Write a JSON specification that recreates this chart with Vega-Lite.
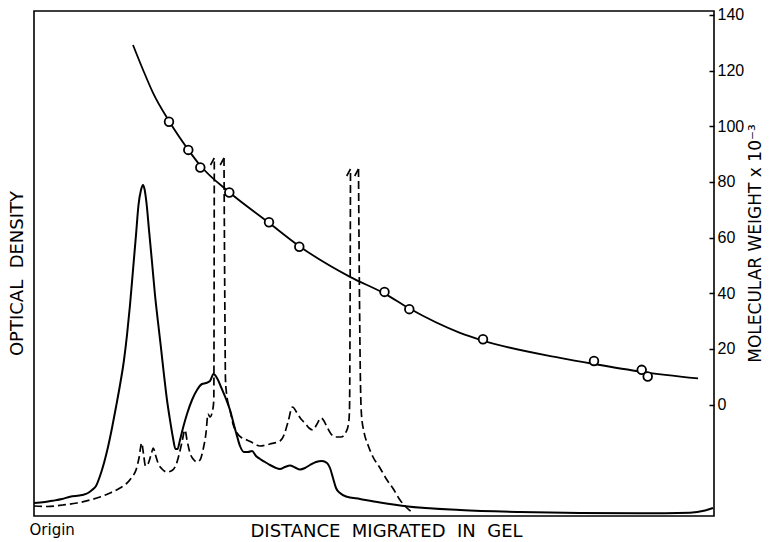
{
  "$schema": "https://vega.github.io/schema/vega-lite/v6.json",
  "width": 680,
  "height": 505,
  "autosize": {"type": "none"},
  "padding": {"left": 34, "top": 11, "right": 60, "bottom": 26},
  "background": "white",
  "config": {
    "font": "DejaVu Sans",
    "view": {"stroke": "black", "strokeWidth": 1.6},
    "axis": {"grid": false, "titleFontWeight": "normal", "titleColor": "black", "labelColor": "black"}
  },
  "datasets": {
    "solid": [
      {"d":0,"od":13},{"d":11,"od":14},{"d":19,"od":15.3},{"d":28,"od":17},{"d":36,"od":19.3},{"d":48,"od":21},{"d":54,"od":23},{"d":58,"od":26},{"d":62,"od":30},{"d":66,"od":40},{"d":70,"od":53},{"d":74,"od":69},{"d":78,"od":88},{"d":82,"od":109},{"d":86,"od":131},{"d":90,"od":156},{"d":93,"od":181},{"d":96,"od":211},{"d":99,"od":246},{"d":102,"od":281},{"d":104.5,"od":311},{"d":107,"od":326},{"d":109,"od":331},{"d":110.5,"od":327},{"d":112.5,"od":313},{"d":115,"od":286},{"d":118,"od":254},{"d":121,"od":221},{"d":124,"od":194},{"d":127,"od":168},{"d":130,"od":141},{"d":133,"od":116},{"d":136,"od":96},{"d":139,"od":78},{"d":141.5,"od":67},{"d":143.5,"od":67},{"d":146,"od":76},{"d":149,"od":88},{"d":153,"od":102},{"d":158,"od":116},{"d":163,"od":126},{"d":168,"od":132},{"d":172,"od":133},{"d":176,"od":135},{"d":179.5,"od":142},{"d":183,"od":138},{"d":187,"od":129},{"d":192,"od":117},{"d":196,"od":106},{"d":200,"od":91},{"d":203,"od":80},{"d":206,"od":70},{"d":210,"od":64},{"d":214,"od":64},{"d":218,"od":65},{"d":222,"od":60},{"d":226,"od":57},{"d":231,"od":54},{"d":236,"od":51},{"d":241,"od":48.5},{"d":246,"od":47},{"d":251,"od":49},{"d":256,"od":50.5},{"d":261,"od":48.5},{"d":266,"od":46.5},{"d":271,"od":48},{"d":276,"od":51},{"d":282,"od":54},{"d":288,"od":55},{"d":293,"od":53},{"d":296,"od":48},{"d":299,"od":38},{"d":302,"od":28},{"d":306,"od":23},{"d":312,"od":19.5},{"d":326,"od":17},{"d":346,"od":13.5},{"d":374,"od":9.5},{"d":426,"od":6},{"d":486,"od":4},{"d":546,"od":3},{"d":606,"od":2.7},{"d":656,"od":3.3},{"d":671,"od":5.5},{"d":679,"od":8}
    ],
    "dashed": [
      {"seg":1,"d":0,"od":10},{"seg":1,"d":13,"od":9.5},{"seg":1,"d":29,"od":11},{"seg":1,"d":43,"od":13},{"seg":1,"d":56,"od":16},{"seg":1,"d":66,"od":19},{"seg":1,"d":76,"od":23},{"seg":1,"d":86,"od":28},{"seg":1,"d":92,"od":32},{"seg":1,"d":98,"od":39},{"seg":1,"d":102,"od":46},{"seg":1,"d":105,"od":58},{"seg":1,"d":107.7,"od":73},{"seg":1,"d":109.5,"od":62},{"seg":1,"d":111.5,"od":50},{"seg":1,"d":114,"od":52},{"seg":1,"d":117,"od":61},{"seg":1,"d":119.3,"od":68},{"seg":1,"d":121.5,"od":61},{"seg":1,"d":124,"od":53},{"seg":1,"d":128,"od":47},{"seg":1,"d":133,"od":44},{"seg":1,"d":138,"od":45.5},{"seg":1,"d":142,"od":51},{"seg":1,"d":145,"od":61},{"seg":1,"d":148,"od":74},{"seg":1,"d":151,"od":86},{"seg":1,"d":153,"od":76},{"seg":1,"d":156,"od":63},{"seg":1,"d":160,"od":56},{"seg":1,"d":163,"od":54},{"seg":1,"d":166,"od":56},{"seg":1,"d":169,"od":66},{"seg":1,"d":172,"od":83},{"seg":1,"d":174,"od":102},{"seg":1,"d":176,"od":99},{"seg":1,"d":178.5,"od":105},{"seg":1,"d":179.8,"od":116},{"seg":1,"d":180.3,"od":358},
      {"seg":2,"d":190,"od":358},{"seg":2,"d":190.8,"od":216},{"seg":2,"d":191.5,"od":136},{"seg":2,"d":192.7,"od":121},{"seg":2,"d":196,"od":106},{"seg":2,"d":199,"od":92},{"seg":2,"d":203,"od":83},{"seg":2,"d":208,"od":78},{"seg":2,"d":213,"od":76},{"seg":2,"d":219,"od":73},{"seg":2,"d":226,"od":70},{"seg":2,"d":236,"od":72},{"seg":2,"d":246,"od":75},{"seg":2,"d":250,"od":81},{"seg":2,"d":254,"od":94},{"seg":2,"d":258.5,"od":109},{"seg":2,"d":263,"od":103},{"seg":2,"d":267,"od":97},{"seg":2,"d":271,"od":93},{"seg":2,"d":275,"od":88},{"seg":2,"d":279,"od":86},{"seg":2,"d":283,"od":92},{"seg":2,"d":287,"od":98},{"seg":2,"d":290,"od":95},{"seg":2,"d":293,"od":89},{"seg":2,"d":297,"od":82},{"seg":2,"d":301,"od":79},{"seg":2,"d":307,"od":79},{"seg":2,"d":312,"od":84},{"seg":2,"d":314.5,"od":92},{"seg":2,"d":315.5,"od":106},{"seg":2,"d":316.5,"od":347},
      {"seg":3,"d":324.5,"od":347},{"seg":3,"d":325.5,"od":216},{"seg":3,"d":326.5,"od":131},{"seg":3,"d":327.5,"od":101},{"seg":3,"d":330,"od":84},{"seg":3,"d":334,"od":71},{"seg":3,"d":339,"od":59},{"seg":3,"d":346,"od":48},{"seg":3,"d":353,"od":36},{"seg":3,"d":360,"od":26},{"seg":3,"d":366,"od":16},{"seg":3,"d":372,"od":9},{"seg":3,"d":377.7,"od":4}
    ],
    "hooks": [
      {"d":180.3,"od":358,"d2":176.5,"od2":351},
      {"d":190,"od":358,"d2":186.2,"od2":351},
      {"d":316.5,"od":347,"d2":312.7,"od2":340},
      {"d":324.5,"od":347,"d2":320.7,"od2":340}
    ],
    "mwcurve": [
      {"d":99,"mw":129.2},{"d":109,"mw":120.3},{"d":119,"mw":112.0},{"d":135,"mw":101.9},{"d":154,"mw":91.7},{"d":166,"mw":86.0},{"d":195,"mw":76.4},{"d":234,"mw":65.6},{"d":265,"mw":57.0},{"d":316,"mw":45.9},{"d":351,"mw":39.8},{"d":375,"mw":34.6},{"d":426,"mw":25.8},{"d":449,"mw":23.0},{"d":526,"mw":16.8},{"d":560,"mw":14.6},{"d":608,"mw":11.8},{"d":664,"mw":9.4}
    ],
    "mwpoints": [
      {"d":135,"mw":101.6},{"d":154.3,"mw":91.5},{"d":166.3,"mw":85.2},{"d":195.3,"mw":76.2},{"d":235,"mw":65.5},{"d":265.3,"mw":56.7},{"d":350.5,"mw":40.5},{"d":375.3,"mw":34.3},{"d":449,"mw":23.5},{"d":560,"mw":15.7},{"d":607.7,"mw":12.5},{"d":613.7,"mw":10.1}
    ]
  },
  "layer": [
    {
      "layer": [
        {
          "data": {"name": "solid"},
          "mark": {"type": "line", "color": "black", "strokeWidth": 2, "interpolate": "monotone"},
          "encoding": {
            "x": {"field": "d", "type": "quantitative", "scale": {"domain": [0, 680], "nice": false, "zero": false},
              "axis": {"orient": "bottom", "values": [0], "labelExpr": "'Origin'", "ticks": false, "domain": false,
                "labelAlign": "left", "labelBaseline": "alphabetic", "labelPadding": 18, "labelOffset": -5, "labelFontSize": 15, "labelFlush": false, "labelBound": false,
                "title": "DISTANCE \u00a0MIGRATED \u00a0IN \u00a0GEL", "titleFontSize": 18, "titleX": 352, "titleY": 20, "titleBaseline": "alphabetic", "titleAlign": "center"}},
            "y": {"field": "od", "type": "quantitative", "scale": {"domain": [0, 505], "nice": false, "zero": false},
              "axis": {"orient": "left", "labels": false, "ticks": false, "domain": false,
                "title": "OPTICAL \u00a0DENSITY", "titleFontSize": 18, "titleX": -17, "titleY": 262, "titleBaseline": "middle", "titleAlign": "center", "titleAngle": -90}}
          }
        },
        {
          "data": {"name": "dashed"},
          "mark": {"type": "line", "color": "black", "strokeWidth": 1.7, "strokeDash": [8, 4], "interpolate": "monotone"},
          "encoding": {
            "x": {"field": "d", "type": "quantitative"},
            "y": {"field": "od", "type": "quantitative"},
            "detail": {"field": "seg", "type": "nominal"}
          }
        },
        {
          "data": {"name": "hooks"},
          "mark": {"type": "rule", "color": "black", "strokeWidth": 1.6},
          "encoding": {
            "x": {"field": "d", "type": "quantitative"},
            "y": {"field": "od", "type": "quantitative"},
            "x2": {"field": "d2"},
            "y2": {"field": "od2"}
          }
        }
      ]
    },
    {
      "layer": [
        {
          "data": {"name": "mwcurve"},
          "mark": {"type": "line", "color": "black", "strokeWidth": 1.8, "interpolate": "monotone"},
          "encoding": {
            "x": {"field": "d", "type": "quantitative"},
            "y": {"field": "mw", "type": "quantitative", "scale": {"domain": [-40, 141.4], "nice": false, "zero": false},
              "axis": {"orient": "right", "values": [0, 20, 40, 60, 80, 100, 120, 140], "domain": false,
                "tickSize": -5, "tickWidth": 1.5, "tickColor": "black", "labelPadding": 8, "labelFontSize": 16, "labelFont": "Liberation Sans",
                "title": "MOLECULAR WEIGHT x 10⁻³", "titleFontSize": 17, "titleAngle": -90, "titleX": 41, "titleY": 232, "titleBaseline": "middle", "titleAlign": "center"}}
          }
        },
        {
          "data": {"name": "mwpoints"},
          "mark": {"type": "point", "shape": "circle", "filled": false, "fill": "white", "fillOpacity": 1, "stroke": "black", "strokeWidth": 1.8, "size": 75, "opacity": 1},
          "encoding": {
            "x": {"field": "d", "type": "quantitative"},
            "y": {"field": "mw", "type": "quantitative"}
          }
        }
      ]
    }
  ],
  "resolve": {"scale": {"y": "independent"}, "axis": {"y": "independent"}}
}
